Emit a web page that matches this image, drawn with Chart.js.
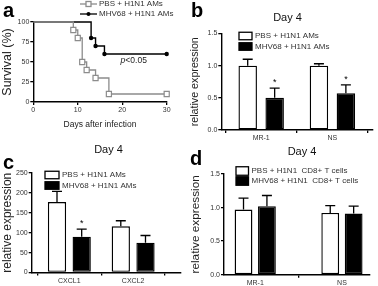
<!DOCTYPE html>
<html>
<head>
<meta charset="utf-8">
<script src="https://cdn.jsdelivr.net/npm/chart.js@4"></script>
<style>
  body { margin: 0; background: #fff; }
  #fig { position: relative; width: 378px; height: 286px; overflow: hidden; }
  #fig canvas { position: absolute; }
  .ytick { position: absolute; left: 0; z-index: 10; text-align: right; font: 7px 'Liberation Sans', Arial, sans-serif;
           line-height: 8px; height: 8px; color: #333; white-space: nowrap; }
</style>
</head>
<body>
<div id="fig">
  <canvas id="panel-a" width="189" height="143" style="left:0;top:0"></canvas>
  <canvas id="panel-b" width="189" height="143" style="left:189px;top:0"></canvas>
  <canvas id="panel-c" width="189" height="143" style="left:0;top:143px"></canvas>
  <canvas id="panel-d" width="189" height="143" style="left:189px;top:143px"></canvas>
</div>
<script>
// --- panel a : survival ---
const amGroups = ['PBS + H1N1 AMs', 'MHV68 + H1N1 AMs'];
const pbsDays = [0, 9, 10, 11, 12, 14, 17, 30];
const pbsSurvival = [100, 90, 80, 50, 40, 30, 10, 10];
const mhvDays = [0, 13, 14, 16, 30];
const mhvSurvival = [100, 80, 70, 60, 60];
const survivalTicks = [0, 25, 50, 75, 100];
const dayTicks = [0, 10, 20, 30];

// --- panel b : AMs, day 4 ---
const bGenes = ['MR-1', 'NS'];
const bPbs = [1.0, 1.0];
const bPbsErr = [0.1, 0.03];
const bMhv = [0.5, 0.57];
const bMhvErr = [0.15, 0.13];
const bMhvStar = [true, true];

// --- panel c : AMs, day 4 ---
const cGenes = ['CXCL1', 'CXCL2'];
const cPbs = [177, 116];
const cPbsErr = [27, 14];
const cMhv = [90, 75];
const cMhvErr = [19, 18];
const cMhvStar = [true, false];

// --- panel d : CD8+ T cells, day 4 ---
const tGroups = ['PBS + H1N1  CD8+ T cells', 'MHV68 + H1N1  CD8+ T cells'];
const dGenes = ['MR-1', 'NS'];
const dPbs = [0.97, 0.92];
const dPbsErr = [0.17, 0.11];
const dMhv = [1.02, 0.91];
const dMhvErr = [0.16, 0.11];
const dMhvStar = [false, false];

const FONT = "'Liberation Sans', Arial, sans-serif";
const GREY = '#8c8c8c';
Chart.defaults.font.family = FONT;
Chart.defaults.color = '#333';
Chart.defaults.animation = false;

function fixWidth(w) { return s => { s.width = w; }; }
function fixHeight(h) { return s => { s.height = h; }; }

function axisStyle() {
  return {
    grid: { display: true, drawOnChartArea: false, drawTicks: true, tickLength: 3, color: '#000', lineWidth: 1.3 },
    border: { display: true, color: '#000', width: 1.4 }
  };
}

// draws the panel letter, the "Day 4" heading and a box legend
function decoPlugin(o) {
  return {
    id: 'deco',
    afterDraw(chart) {
      const ctx = chart.ctx;
      ctx.save();
      ctx.fillStyle = '#000';
      ctx.font = 'bold 20px ' + FONT;
      ctx.textBaseline = 'alphabetic';
      ctx.textAlign = 'left';
      ctx.fillText(o.letter, o.letterX, o.letterY);
      ctx.font = '11px ' + FONT;
      ctx.textAlign = 'center';
      ctx.textBaseline = 'middle';
      ctx.fillStyle = '#111';
      ctx.fillText(o.heading, o.headX, o.headY);
      ctx.font = '8px ' + FONT;
      ctx.textAlign = 'left';
      o.boxes.forEach((txt, i) => {
        const y = o.legY + i * o.legGap;
        ctx.fillStyle = i === 0 ? '#fff' : '#000';
        ctx.fillRect(o.legX, y - o.boxH / 2, o.boxW, o.boxH);
        ctx.strokeStyle = '#000';
        ctx.lineWidth = 1.3;
        ctx.strokeRect(o.legX, y - o.boxH / 2, o.boxW, o.boxH);
        ctx.fillStyle = '#333';
        ctx.fillText(txt, o.legX + o.boxW + 3, y);
      });
      ctx.restore();
    }
  };
}

// upper error bars with caps, plus significance stars
const errorBars = {
  id: 'errorBars',
  afterDatasetsDraw(chart) {
    const ctx = chart.ctx;
    const y = chart.scales.y;
    ctx.save();
    ctx.strokeStyle = '#000';
    ctx.lineWidth = 1.3;
    chart.data.datasets.forEach((ds, i) => {
      const meta = chart.getDatasetMeta(i);
      meta.data.forEach((bar, j) => {
        const top = y.getPixelForValue(ds.data[j].y + ds.err[j]);
        ctx.beginPath();
        ctx.moveTo(bar.x, bar.y);
        ctx.lineTo(bar.x, top);
        ctx.moveTo(bar.x - 5, top);
        ctx.lineTo(bar.x + 5, top);
        ctx.stroke();
        if (ds.star && ds.star[j]) {
          ctx.fillStyle = '#000';
          ctx.font = '9px ' + FONT;
          ctx.textAlign = 'center';
          ctx.textBaseline = 'alphabetic';
          ctx.fillText('*', bar.x, top - 3);
        }
      });
    });
    ctx.restore();
  }
};

function barPanel(id, o) {
  const toPts = vals => vals.map((v, i) => ({ x: i, y: v }));
  return new Chart(document.getElementById(id), {
    type: 'bar',
    data: {
      datasets: [
        { label: o.groups[0], data: toPts(o.pbs), err: o.pbsErr, backgroundColor: '#fff',
          borderColor: '#000', borderWidth: 1.4, borderSkipped: false },
        { label: o.groups[1], data: toPts(o.mhv), err: o.mhvErr, star: o.star, backgroundColor: '#000',
          borderColor: '#000', borderWidth: 1.4, borderSkipped: false }
      ]
    },
    options: {
      responsive: false,
      categoryPercentage: o.catPct,
      barPercentage: o.barPct,
      layout: { padding: o.pad },
      plugins: { legend: { display: false }, tooltip: { enabled: false } },
      scales: {
        x: Object.assign(axisStyle(), {
          type: 'linear', min: o.xMin, max: o.xMax, offset: false,
          afterBuildTicks: s => { s.ticks = o.genes.map((g, i) => ({ value: i })); },
          afterFit: fixHeight(o.xH),
          ticks: { font: { size: 7 }, padding: 1, autoSkip: false, callback: (v, i) => o.genes[i] }
        }),
        y: Object.assign(axisStyle(), {
          min: 0, max: o.yMax,
          afterFit: fixWidth(o.yW),
          afterBuildTicks: s => { s.ticks = o.yTicks.map(v => ({ value: v })); },
          ticks: { font: { size: 7 }, padding: 1, autoSkip: false, callback: o.fmt },
          title: { display: true, text: 'relative expression', font: { size: o.titleSize }, color: '#222', padding: 0 }
        })
      }
    },
    plugins: [errorBars, decoPlugin(o.deco)]
  });
}

// panel a: letter, line legend and p value
const survivalLegend = {
  id: 'survivalLegend',
  afterDraw(chart) {
    const ctx = chart.ctx;
    const xs = chart.scales.x, ys = chart.scales.y;
    ctx.save();
    ctx.textAlign = 'left';
    ctx.textBaseline = 'alphabetic';
    ctx.font = 'bold 20px ' + FONT;
    ctx.fillStyle = '#000';
    ctx.fillText('a', 3, 17);
    ctx.font = '8px ' + FONT;
    ctx.textBaseline = 'middle';
    amGroups.forEach((g, i) => {
      const y = 4 + i * 10;
      ctx.strokeStyle = i === 0 ? GREY : '#000';
      ctx.lineWidth = 1.3;
      ctx.beginPath(); ctx.moveTo(80, y); ctx.lineTo(97, y); ctx.stroke();
      if (i === 0) {
        ctx.fillStyle = '#fff';
        ctx.fillRect(86, y - 2.5, 5, 5);
        ctx.strokeRect(86, y - 2.5, 5, 5);
      } else {
        ctx.fillStyle = '#000';
        ctx.beginPath(); ctx.arc(88.5, y, 2, 0, Math.PI * 2); ctx.fill();
      }
      ctx.fillStyle = '#333';
      ctx.fillText(g, 99, y);
    });
    const px = xs.getPixelForValue(22.5), py = ys.getPixelForValue(52);
    ctx.fillStyle = '#222';
    ctx.font = 'italic 8.5px ' + FONT;
    ctx.textAlign = 'right';
    ctx.fillText('p', px - 8, py);
    ctx.font = '8.5px ' + FONT;
    ctx.textAlign = 'left';
    ctx.fillText('<0.05', px - 8, py);
    ctx.restore();
  }
};

const oneDec = v => v.toFixed(1);

barPanel('panel-b', {
  groups: amGroups, genes: bGenes, pbs: bPbs, pbsErr: bPbsErr, mhv: bMhv, mhvErr: bMhvErr, star: bMhvStar,
  yMax: 1.5, yTicks: [0, 0.5, 1, 1.5], fmt: oneDec, titleSize: 10.7,
  xMin: -0.56, xMax: 1.57, catPct: 0.757, barPct: 0.685,
  yW: 32.3, xH: 13, pad: { left: 0, top: 33.5, right: 5, bottom: 0 },
  deco: { letter: 'b', letterX: 2, letterY: 17, heading: 'Day 4', headX: 98.5, headY: 18,
          boxes: amGroups, legX: 50, legY: 36, legGap: 10.5, boxW: 13, boxH: 7.5 }
});

barPanel('panel-c', {
  groups: amGroups, genes: cGenes, pbs: cPbs, pbsErr: cPbsErr, mhv: cMhv, mhvErr: cMhvErr, star: cMhvStar,
  yMax: 250, yTicks: [0, 50, 100, 150, 200, 250], fmt: v => String(v), titleSize: 12,
  xMin: -0.59, xMax: 1.75, catPct: 0.774, barPct: 0.74,
  yW: 31.7, xH: 13.5, pad: { left: 0, top: 30, right: 8, bottom: 0 },
  deco: { letter: 'c', letterX: 3, letterY: 26, heading: 'Day 4', headX: 108.5, headY: 7,
          boxes: amGroups, legX: 45, legY: 32, legGap: 10.5, boxW: 14, boxH: 7.5 }
});

barPanel('panel-d', {
  groups: tGroups, genes: dGenes, pbs: dPbs, pbsErr: dPbsErr, mhv: dMhv, mhvErr: dMhvErr, star: dMhvStar,
  yMax: 1.5, yTicks: [0, 0.5, 1, 1.5], fmt: oneDec, titleSize: 11.8,
  xMin: -0.36, xMax: 1.32, catPct: 0.54, barPct: 0.76,
  yW: 35, xH: 11.3, pad: { left: 0, top: 31, right: 8.3, bottom: 0 },
  deco: { letter: 'd', letterX: 1, letterY: 21.5, heading: 'Day 4', headX: 113, headY: 8.5,
          boxes: tGroups, legX: 47, legY: 28, legGap: 10, boxW: 12.5, boxH: 8.5 }
});

const chartA = new Chart(document.getElementById('panel-a'), {
  type: 'line',
  data: {
    datasets: [
      { label: amGroups[0], data: pbsDays.map((d, i) => ({ x: d, y: pbsSurvival[i] })),
        stepped: true, borderColor: GREY, borderWidth: 1.3, pointStyle: 'rect',
        pointRadius: c => c.dataIndex === 0 ? 0 : 3.6, pointBackgroundColor: '#fff',
        pointBorderColor: GREY, pointBorderWidth: 1.2, clip: false },
      { label: amGroups[1], data: mhvDays.map((d, i) => ({ x: d, y: mhvSurvival[i] })),
        stepped: true, borderColor: '#000', borderWidth: 1.4, pointStyle: 'circle',
        pointRadius: c => c.dataIndex === 0 ? 0 : 2.2, pointBackgroundColor: '#000',
        pointBorderColor: '#000', pointBorderWidth: 0, clip: false }
    ]
  },
  options: {
    responsive: false,
    layout: { padding: { left: 0, top: 22, right: 22.3, bottom: 13 } },
    plugins: { legend: { display: false }, tooltip: { enabled: false } },
    scales: {
      x: Object.assign(axisStyle(), {
        type: 'linear', min: 0, max: 30,
        afterBuildTicks: s => { s.ticks = dayTicks.map(v => ({ value: v })); },
        afterFit: fixHeight(28),
        ticks: { font: { size: 7 }, padding: 1, autoSkip: false, callback: v => String(v) },
        title: { display: true, text: 'Days after infection', font: { size: 8.5 }, color: '#222', padding: 0 }
      }),
      y: Object.assign(axisStyle(), {
        type: 'linear', min: 0, max: 100,
        afterBuildTicks: s => { s.ticks = survivalTicks.map(v => ({ value: v })); },
        afterFit: fixWidth(33.3),
        ticks: { font: { size: 7 }, padding: 1, autoSkip: false, color: 'rgba(0,0,0,0)', callback: v => String(v) },
        title: { display: true, text: 'Survival (%)', font: { size: 12.5 }, color: '#222', padding: 0 }
      })
    }
  },
  plugins: [survivalLegend]
});

// panel a y tick labels as text elements, placed from the chart's own y scale
(function () {
  const ys = chartA.scales.y;
  const fig = document.getElementById('fig');
  ys.ticks.forEach(t => {
    const el = document.createElement('div');
    el.className = 'ytick';
    el.textContent = t.label;
    el.style.width = (ys.right - 4) + 'px';
    el.style.top = (ys.getPixelForValue(t.value) - 4) + 'px';
    fig.appendChild(el);
  });
})();
</script>
</body>
</html>
